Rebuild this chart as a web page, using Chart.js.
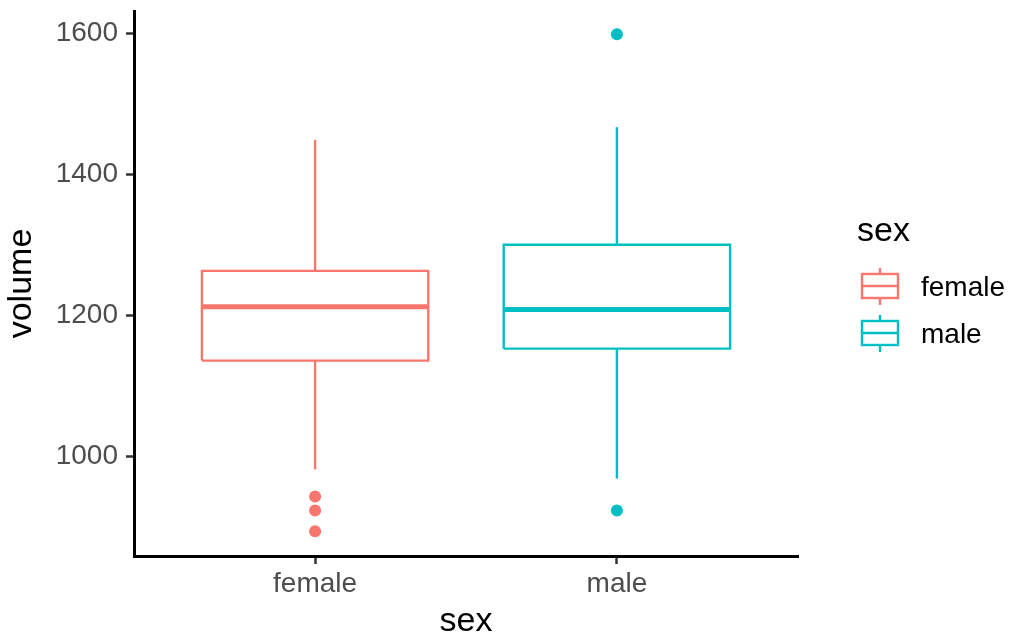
<!DOCTYPE html>
<html>
<head>
<meta charset="utf-8">
<script src="https://cdn.jsdelivr.net/npm/chart.js@4/dist/chart.umd.min.js"></script>
<style>
  body { margin: 0; background: #fff; }
  #wrap { width: 1011px; height: 639px; }
</style>
</head>
<body>
<div id="wrap"><canvas id="chart" width="1011" height="639"></canvas></div>
<script>
// boxplot stats
const categories = ['female', 'male'];
const lowerWhisker = [981, 968];
const q1 = [1135.5, 1152.5];
const medians = [1212, 1208];
const q3 = [1263, 1300];
const upperWhisker = [1449, 1467];
const outliers = [[942.6, 922.7, 893], [1599, 922.7]];
const yTicks = [1000, 1200, 1400, 1600];

const colors = ['#F8766D', '#00BFC4'];
const FONT = "'Liberation Sans', Arial, Helvetica, sans-serif";
const halfWidth = 0.375;

const datasets = [];
categories.forEach((cat, i) => {
  const x = i + 1;
  const line = {showLine: true, pointRadius: 0, borderColor: colors[i], fill: false, borderJoinStyle: 'miter'};
  datasets.push(Object.assign({}, line, {
    label: cat + ' whisker hi', borderWidth: 2.4,
    data: [{x: x, y: q3[i]}, {x: x, y: upperWhisker[i]}]
  }));
  datasets.push(Object.assign({}, line, {
    label: cat + ' whisker lo', borderWidth: 2.4,
    data: [{x: x, y: lowerWhisker[i]}, {x: x, y: q1[i]}]
  }));
  datasets.push(Object.assign({}, line, {
    label: cat + ' box', borderWidth: 2.4,
    data: [
      {x: x - halfWidth, y: q1[i]}, {x: x + halfWidth, y: q1[i]},
      {x: x + halfWidth, y: q3[i]}, {x: x - halfWidth, y: q3[i]},
      {x: x - halfWidth, y: q1[i]}
    ]
  }));
  datasets.push(Object.assign({}, line, {
    label: cat + ' median', borderWidth: 5, borderCapStyle: 'butt',
    data: [{x: x - halfWidth, y: medians[i]}, {x: x + halfWidth, y: medians[i]}]
  }));
  datasets.push({
    label: cat + ' outliers', showLine: false,
    pointRadius: 6, pointBorderWidth: 0, backgroundColor: colors[i], borderColor: colors[i],
    data: outliers[i].map(v => ({x: x, y: v}))
  });
});

const boxLegend = {
  id: 'boxLegend',
  afterDraw(chart) {
    const ctx = chart.ctx;
    const left = chart.chartArea.right + 59;
    ctx.save();
    ctx.fillStyle = '#000';
    ctx.textBaseline = 'alphabetic';
    ctx.textAlign = 'left';
    ctx.font = '34px ' + FONT;
    ctx.fillText('sex', left, 241);
    ctx.font = '28px ' + FONT;
    categories.forEach((cat, i) => {
      const cy = 286 + i * 47;
      const kx = left + 5;
      ctx.strokeStyle = colors[i];
      ctx.lineWidth = 2.4;
      ctx.beginPath();
      ctx.moveTo(kx + 18, cy - 18); ctx.lineTo(kx + 18, cy + 19);
      ctx.stroke();
      ctx.fillStyle = '#fff';
      ctx.fillRect(kx, cy - 12, 36, 24);
      ctx.strokeRect(kx, cy - 12, 36, 24);
      ctx.beginPath();
      ctx.moveTo(kx, cy); ctx.lineTo(kx + 36, cy);
      ctx.stroke();
      ctx.fillStyle = '#000';
      ctx.fillText(cat, left + 64, cy + 10);
    });
    ctx.restore();
  }
};

new Chart(document.getElementById('chart'), {
  type: 'scatter',
  data: {datasets: datasets},
  plugins: [boxLegend],
  options: {
    responsive: false,
    animation: false,
    devicePixelRatio: 1,
    layout: {padding: {top: 11, right: 213, bottom: 0, left: 0}},
    plugins: {legend: {display: false}, tooltip: {enabled: false}},
    scales: {
      x: {
        type: 'linear',
        min: 0.4,
        max: 2.6,
        afterBuildTicks: (scale) => { scale.ticks = categories.map((c, i) => ({value: i + 1})); },
        afterFit: (scale) => { scale.height = 83; scale.paddingLeft = 0; scale.paddingRight = 0; },
        ticks: {
          autoSkip: false, maxRotation: 0, padding: 3,
          color: '#4D4D4D', font: {family: FONT, size: 28},
          callback: (v) => categories[v - 1]
        },
        grid: {drawOnChartArea: false, tickLength: 8, tickColor: '#333', tickWidth: 2.5},
        border: {color: '#000', width: 3},
        title: {display: true, text: 'sex', color: '#000', font: {family: FONT, size: 34, lineHeight: 1}, padding: {top: 0, bottom: 0}}
      },
      y: {
        min: 858,
        max: 1632,
        afterBuildTicks: (scale) => { scale.ticks = yTicks.map(v => ({value: v})); },
        afterFit: (scale) => { scale.width = 134; scale.paddingTop = 0; scale.paddingBottom = 0; },
        ticks: {
          autoSkip: false, padding: 8,
          color: '#4D4D4D', font: {family: FONT, size: 28},
          callback: (v) => String(v)
        },
        grid: {drawOnChartArea: false, tickLength: 8, tickColor: '#333', tickWidth: 2.5},
        border: {color: '#000', width: 3},
        title: {display: true, text: 'volume', color: '#000', font: {family: FONT, size: 34, lineHeight: 1}, padding: {top: 5, bottom: 0}}
      }
    }
  }
});
</script>
</body>
</html>
